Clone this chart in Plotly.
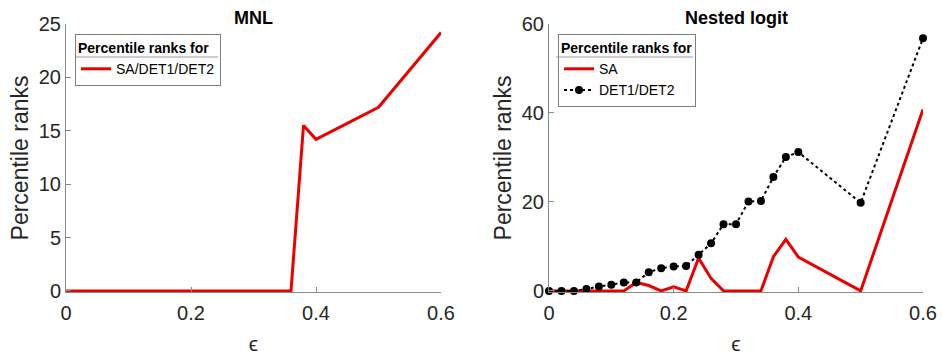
import plotly.graph_objects as go

# epsilon grid shared by both models
eps = [0.00, 0.02, 0.04, 0.06, 0.08, 0.10, 0.12, 0.14, 0.16, 0.18, 0.20,
       0.22, 0.24, 0.26, 0.28, 0.30, 0.32, 0.34, 0.36, 0.38, 0.40, 0.50, 0.60]

# MNL: percentile ranks for SA/DET1/DET2
mnl_rank = [0, 0, 0, 0, 0, 0, 0, 0, 0, 0, 0, 0, 0, 0, 0, 0, 0, 0, 0,
            15.5, 14.2, 17.2, 24.2]

# Nested logit: percentile ranks for SA and for DET1/DET2
nl_sa = [0, 0, 0, 0, 0, 0, 0, 1.9, 1.2, 0, 0.9, 0, 7.4, 2.8, 0, 0, 0, 0,
         7.7, 11.6, 7.6, 0, 40.8]
nl_det = [0, 0, 0, 0.4, 1.0, 1.4, 1.9, 1.9, 4.2, 5.1, 5.5, 5.6, 8.1, 10.7,
          15.0, 15.0, 20.1, 20.2, 25.6, 30.1, 31.2, 19.8, 56.8]

x_ticks = [0, 0.2, 0.4, 0.6]
x_ticktext = ["0", "0.2", "0.4", "0.6"]
mnl_yticks = [0, 5, 10, 15, 20, 25]
nl_yticks = [0, 20, 40, 60]

FONT = "Liberation Sans, Arial, Helvetica, sans-serif"
RED = "rgb(235,0,0)"
AXIS = "#8a8a8a"
TXT = "#262626"

# plot area in pixels (figure 943 x 358)
L, R, T, B = 66, 20, 24, 66
PW, PH = 943 - L - R, 358 - T - B


def px_x(p):
    return (p - L) / PW


def px_y(q):
    return (358 - B - q) / PH


fig = go.Figure()

fig.add_trace(go.Scatter(
    x=eps, y=mnl_rank, mode="lines", name="SA/DET1/DET2", showlegend=True,
    line=dict(color=RED, width=3), xaxis="x", yaxis="y", legend="legend"))

fig.add_trace(go.Scatter(
    x=eps, y=nl_sa, mode="lines", name="SA", showlegend=True,
    line=dict(color=RED, width=3), xaxis="x2", yaxis="y2", legend="legend2"))

fig.add_trace(go.Scatter(
    x=eps, y=nl_det, mode="lines+markers", name="DET1/DET2", showlegend=True,
    line=dict(color="black", width=2, dash="dot"),
    marker=dict(color="black", size=8, symbol="circle"),
    cliponaxis=False, xaxis="x2", yaxis="y2", legend="legend2"))

axis_common = dict(
    showline=True, linecolor=AXIS, linewidth=1, mirror=False,
    showgrid=False, zeroline=False, ticks="inside", ticklen=5,
    tickcolor=AXIS, tickwidth=1, automargin=False,
    tickfont=dict(family=FONT, size=20, color=TXT),
)

xaxis_common = dict(axis_common, range=[0, 0.6], tickvals=x_ticks,
                    ticktext=x_ticktext, ticklabelstandoff=3,
                    title=dict(text="ϵ", standoff=13,
                               font=dict(family=FONT, size=21, color=TXT)))

ytitle = dict(text="Percentile ranks", standoff=3,
              font=dict(family=FONT, size=23, color=TXT))

# legends are transparent so the heading rule (a shape) shows through
legend_common = dict(
    xanchor="left", yanchor="top", bgcolor="rgba(255,255,255,0)",
    bordercolor="#7f7f7f", borderwidth=1, itemwidth=30,
    tracegroupgap=0, itemclick=False, itemdoubleclick=False,
    font=dict(family=FONT, size=14, color="black"),
    title=dict(text="<b>Percentile ranks for</b>", side="top",
               font=dict(family=FONT, size=14, color="black")),
)

# rule under each legend heading
sep_y = px_y(57)
separators = [
    dict(type="line", xref="paper", yref="paper", layer="above",
         x0=px_x(75), x1=px_x(218), y0=sep_y, y1=sep_y,
         line=dict(color="#9a9a9a", width=1)),
    dict(type="line", xref="paper", yref="paper", layer="above",
         x0=px_x(556), x1=px_x(693), y0=sep_y, y1=sep_y,
         line=dict(color="#9a9a9a", width=1)),
]

fig.update_layout(
    width=943, height=358,
    margin=dict(l=L, r=R, t=T, b=B),
    showlegend=True,
    paper_bgcolor="white", plot_bgcolor="white",
    font=dict(family=FONT, color=TXT),
    xaxis=dict(xaxis_common, domain=[0, px_x(441)], anchor="y"),
    yaxis=dict(axis_common, domain=[0, 1], anchor="x", range=[-0.1, 25],
               tickvals=mnl_yticks, title=ytitle),
    xaxis2=dict(xaxis_common, domain=[px_x(549), 1], anchor="y2"),
    yaxis2=dict(axis_common, domain=[0, 1], anchor="x2", range=[-0.25, 60],
                tickvals=nl_yticks, title=ytitle),
    legend=dict(legend_common, x=px_x(75), y=px_y(34)),
    legend2=dict(legend_common, x=px_x(558), y=px_y(34)),
    shapes=separators,
    annotations=[
        dict(text="<b>MNL</b>", x=0.5, y=1.0, xref="x domain", yref="paper",
             yanchor="bottom", yshift=-6, showarrow=False,
             font=dict(family=FONT, size=18, color="black")),
        dict(text="<b>Nested logit</b>", x=0.5, y=1.0, xref="x2 domain",
             yref="paper", yanchor="bottom", yshift=-6, showarrow=False,
             font=dict(family=FONT, size=18, color="black")),
    ],
)

fig.write_html("out.html")
